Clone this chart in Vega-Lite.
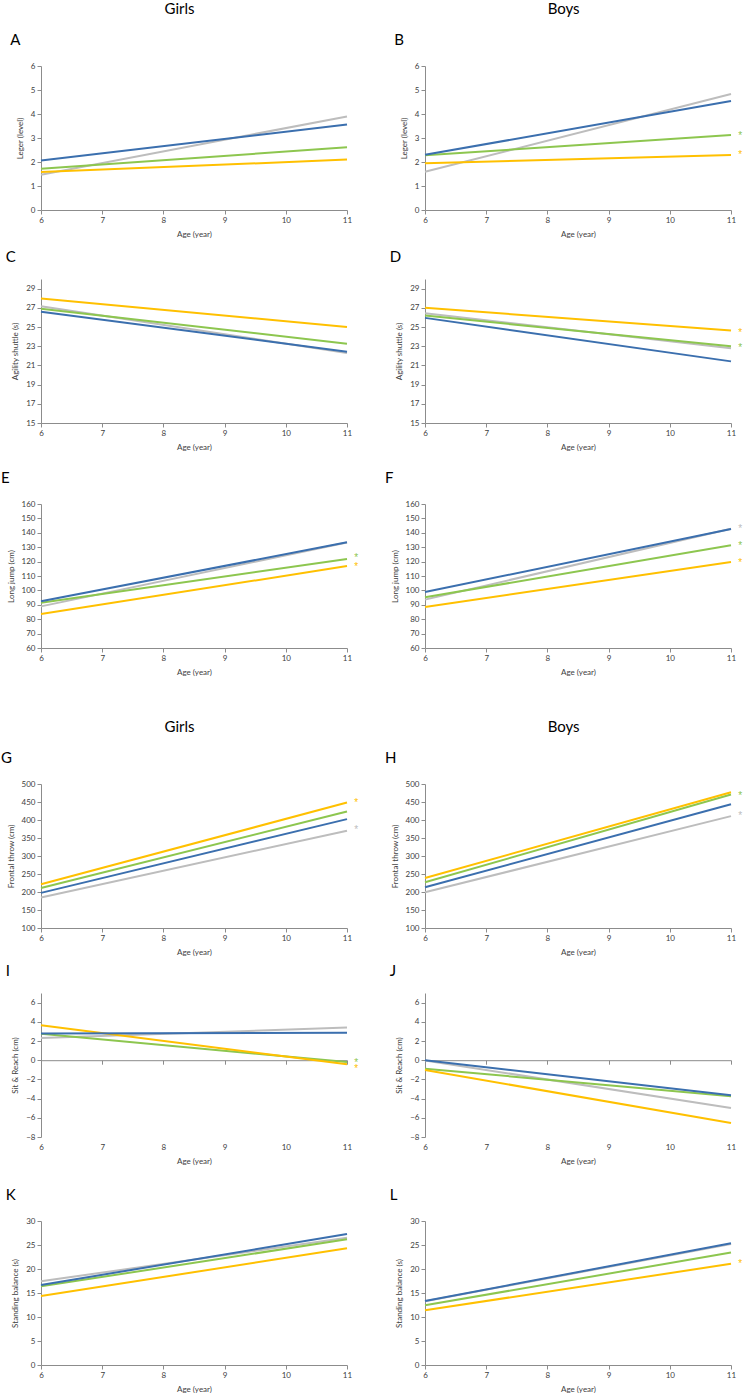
{
"$schema":"https://vega.github.io/schema/vega-lite/v6.json",
"padding":{"left":1,"top":2,"right":0,"bottom":0},
"background":"white",
"config":{"view":{"stroke":null},
"title":{"anchor":"start","frame":"bounds","font":"Lato","fontSize":15,"fontWeight":"normal","color":"#000000","offset":14,"dx":-6},
"axis":{"grid":false,"labelFont":"Lato","labelFontSize":8,"titleFont":"Lato","titleFontSize":8,"titleFontWeight":"normal","labelColor":"#404040","titleColor":"#404040","domainColor":"#8c8c8c","tickColor":"#8c8c8c","tickSize":4,"labelPadding":2,"titlePadding":6,"labelFlush":false}},
"datasets":{
"lines":[
{"panel":"A","group":"gray","age":6,"value":1.47},{"panel":"A","group":"gray","age":11,"value":3.90},
{"panel":"A","group":"green","age":6,"value":1.72},{"panel":"A","group":"green","age":11,"value":2.61},
{"panel":"A","group":"gold","age":6,"value":1.58},{"panel":"A","group":"gold","age":11,"value":2.10},
{"panel":"A","group":"blue","age":6,"value":2.06},{"panel":"A","group":"blue","age":11,"value":3.56},
{"panel":"B","group":"gray","age":6,"value":1.59},{"panel":"B","group":"gray","age":11,"value":4.83},
{"panel":"B","group":"green","age":6,"value":2.28},{"panel":"B","group":"green","age":11,"value":3.12},
{"panel":"B","group":"gold","age":6,"value":1.95},{"panel":"B","group":"gold","age":11,"value":2.29},
{"panel":"B","group":"blue","age":6,"value":2.30},{"panel":"B","group":"blue","age":11,"value":4.54},
{"panel":"C","group":"gray","age":6,"value":27.17},{"panel":"C","group":"gray","age":11,"value":22.29},
{"panel":"C","group":"green","age":6,"value":26.9},{"panel":"C","group":"green","age":11,"value":23.26},
{"panel":"C","group":"gold","age":6,"value":27.96},{"panel":"C","group":"gold","age":11,"value":25.0},
{"panel":"C","group":"blue","age":6,"value":26.6},{"panel":"C","group":"blue","age":11,"value":22.42},
{"panel":"D","group":"gray","age":6,"value":26.43},{"panel":"D","group":"gray","age":11,"value":22.79},
{"panel":"D","group":"green","age":6,"value":26.19},{"panel":"D","group":"green","age":11,"value":22.99},
{"panel":"D","group":"gold","age":6,"value":27.0},{"panel":"D","group":"gold","age":11,"value":24.64},
{"panel":"D","group":"blue","age":6,"value":25.95},{"panel":"D","group":"blue","age":11,"value":21.42},
{"panel":"E","group":"gray","age":6,"value":88.9},{"panel":"E","group":"gray","age":11,"value":133.2},
{"panel":"E","group":"green","age":6,"value":91.5},{"panel":"E","group":"green","age":11,"value":121.8},
{"panel":"E","group":"gold","age":6,"value":83.6},{"panel":"E","group":"gold","age":11,"value":116.9},
{"panel":"E","group":"blue","age":6,"value":92.4},{"panel":"E","group":"blue","age":11,"value":133.4},
{"panel":"F","group":"gray","age":6,"value":93.6},{"panel":"F","group":"gray","age":11,"value":142.8},
{"panel":"F","group":"green","age":6,"value":95.2},{"panel":"F","group":"green","age":11,"value":131.3},
{"panel":"F","group":"gold","age":6,"value":88.5},{"panel":"F","group":"gold","age":11,"value":119.7},
{"panel":"F","group":"blue","age":6,"value":98.9},{"panel":"F","group":"blue","age":11,"value":142.6},
{"panel":"G","group":"gray","age":6,"value":184.6},{"panel":"G","group":"gray","age":11,"value":370.3},
{"panel":"G","group":"green","age":6,"value":211.3},{"panel":"G","group":"green","age":11,"value":423.7},
{"panel":"G","group":"gold","age":6,"value":221.4},{"panel":"G","group":"gold","age":11,"value":448.5},
{"panel":"G","group":"blue","age":6,"value":197.5},{"panel":"G","group":"blue","age":11,"value":402.5},
{"panel":"H","group":"gray","age":6,"value":199.3},{"panel":"H","group":"gray","age":11,"value":410.8},
{"panel":"H","group":"green","age":6,"value":226.9},{"panel":"H","group":"green","age":11,"value":470.6},
{"panel":"H","group":"gold","age":6,"value":238.9},{"panel":"H","group":"gold","age":11,"value":477},
{"panel":"H","group":"blue","age":6,"value":213.1},{"panel":"H","group":"blue","age":11,"value":443.9},
{"panel":"I","group":"gray","age":6,"value":2.30},{"panel":"I","group":"gray","age":11,"value":3.41},
{"panel":"I","group":"green","age":6,"value":2.75},{"panel":"I","group":"green","age":11,"value":-0.19},
{"panel":"I","group":"gold","age":6,"value":3.65},{"panel":"I","group":"gold","age":11,"value":-0.43},
{"panel":"I","group":"blue","age":6,"value":2.79},{"panel":"I","group":"blue","age":11,"value":2.85},
{"panel":"J","group":"gray","age":6,"value":-0.03},{"panel":"J","group":"gray","age":11,"value":-4.98},
{"panel":"J","group":"green","age":6,"value":-0.88},{"panel":"J","group":"green","age":11,"value":-3.76},
{"panel":"J","group":"gold","age":6,"value":-1.02},{"panel":"J","group":"gold","age":11,"value":-6.54},
{"panel":"J","group":"blue","age":6,"value":0.0},{"panel":"J","group":"blue","age":11,"value":-3.66},
{"panel":"K","group":"gray","age":6,"value":17.43},{"panel":"K","group":"gray","age":11,"value":26.53},
{"panel":"K","group":"green","age":6,"value":16.39},{"panel":"K","group":"green","age":11,"value":26.18},
{"panel":"K","group":"gold","age":6,"value":14.38},{"panel":"K","group":"gold","age":11,"value":24.31},
{"panel":"K","group":"blue","age":6,"value":16.67},{"panel":"K","group":"blue","age":11,"value":27.29},
{"panel":"L","group":"gray","age":6,"value":13.30},{"panel":"L","group":"gray","age":11,"value":25.2},
{"panel":"L","group":"green","age":6,"value":12.44},{"panel":"L","group":"green","age":11,"value":23.43},
{"panel":"L","group":"gold","age":6,"value":11.40},{"panel":"L","group":"gold","age":11,"value":21.08},
{"panel":"L","group":"blue","age":6,"value":13.35},{"panel":"L","group":"blue","age":11,"value":25.37}
],
"stars":[
{"panel":"B","group":"green","age":11.15,"value":3.16},{"panel":"B","group":"gold","age":11.15,"value":2.36},
{"panel":"D","group":"gold","age":11.15,"value":24.63},{"panel":"D","group":"green","age":11.15,"value":23.06},
{"panel":"E","group":"green","age":11.15,"value":123.7},{"panel":"E","group":"gold","age":11.15,"value":117.9},
{"panel":"F","group":"gray","age":11.15,"value":144},{"panel":"F","group":"green","age":11.15,"value":132.2},{"panel":"F","group":"gold","age":11.15,"value":120.7},
{"panel":"G","group":"gold","age":11.15,"value":454},{"panel":"G","group":"gray","age":11.15,"value":377},
{"panel":"H","group":"green","age":11.15,"value":472},{"panel":"H","group":"gray","age":11.15,"value":417},
{"panel":"I","group":"green","age":11.15,"value":-0.05},{"panel":"I","group":"gold","age":11.15,"value":-0.67},
{"panel":"L","group":"gold","age":11.15,"value":21.4}
]},
"spacing":44,
"vconcat":[
{"spacing":26,"hconcat":[
{"title":{"text":"Girls","anchor":"middle","fontSize":15,"offset":16,"dx":0},"spacing":12,"vconcat":[
{"title":{"text":"A"},"width":306,"height":144,
"encoding":{"x":{"field":"age","type":"quantitative","scale":{"domain":[6,11],"nice":false},"axis":{"values":[6,7,8,9,10,11],"title":"Age (year)"}},
"y":{"field":"value","type":"quantitative","scale":{"domain":[0,6],"nice":false,"zero":false},"axis":{"values":[0,1,2,3,4,5,6],"title":"Leger (level)"}},
"color":{"field":"group","type":"nominal","scale":{"domain":["gray","green","gold","blue"],"range":["#BDBDBD","#8DC64F","#FFC000","#3B6FAE"]},"legend":null}},
"layer":[{"data":{"name":"lines"},"transform":[{"filter":"datum.panel==='A'"}],"mark":{"type":"line","strokeWidth":2}},
{"data":{"name":"stars"},"transform":[{"filter":"datum.panel==='A'"}],"mark":{"type":"text","text":"*","fontSize":10,"dy":2}}]},
{"spacing":20,"vconcat":[
{"title":{"text":"C"},"width":306,"height":144,
"encoding":{"x":{"field":"age","type":"quantitative","scale":{"domain":[6,11],"nice":false},"axis":{"values":[6,7,8,9,10,11],"title":"Age (year)"}},
"y":{"field":"value","type":"quantitative","scale":{"domain":[15,30],"nice":false,"zero":false},"axis":{"values":[15,17,19,21,23,25,27,29],"title":"Agility shuttle (s)"}},
"color":{"field":"group","type":"nominal","scale":{"domain":["gray","green","gold","blue"],"range":["#BDBDBD","#8DC64F","#FFC000","#3B6FAE"]},"legend":null}},
"layer":[{"data":{"name":"lines"},"transform":[{"filter":"datum.panel==='C'"}],"mark":{"type":"line","strokeWidth":2}},
{"data":{"name":"stars"},"transform":[{"filter":"datum.panel==='C'"}],"mark":{"type":"text","text":"*","fontSize":10,"dy":2}}]},
{"title":{"text":"E"},"width":306,"height":144,
"encoding":{"x":{"field":"age","type":"quantitative","scale":{"domain":[6,11],"nice":false},"axis":{"values":[6,7,8,9,10,11],"title":"Age (year)"}},
"y":{"field":"value","type":"quantitative","scale":{"domain":[60,160],"nice":false,"zero":false},"axis":{"values":[60,70,80,90,100,110,120,130,140,150,160],"title":"Long jump (cm)"}},
"color":{"field":"group","type":"nominal","scale":{"domain":["gray","green","gold","blue"],"range":["#BDBDBD","#8DC64F","#FFC000","#3B6FAE"]},"legend":null}},
"layer":[{"data":{"name":"lines"},"transform":[{"filter":"datum.panel==='E'"}],"mark":{"type":"line","strokeWidth":2}},
{"data":{"name":"stars"},"transform":[{"filter":"datum.panel==='E'"}],"mark":{"type":"text","text":"*","fontSize":10,"dy":2}}]}
]}
]},
{"title":{"text":"Boys","anchor":"middle","fontSize":15,"offset":16,"dx":0},"spacing":12,"vconcat":[
{"title":{"text":"B"},"width":306,"height":144,
"encoding":{"x":{"field":"age","type":"quantitative","scale":{"domain":[6,11],"nice":false},"axis":{"values":[6,7,8,9,10,11],"title":"Age (year)"}},
"y":{"field":"value","type":"quantitative","scale":{"domain":[0,6],"nice":false,"zero":false},"axis":{"values":[0,1,2,3,4,5,6],"title":"Leger (level)"}},
"color":{"field":"group","type":"nominal","scale":{"domain":["gray","green","gold","blue"],"range":["#BDBDBD","#8DC64F","#FFC000","#3B6FAE"]},"legend":null}},
"layer":[{"data":{"name":"lines"},"transform":[{"filter":"datum.panel==='B'"}],"mark":{"type":"line","strokeWidth":2}},
{"data":{"name":"stars"},"transform":[{"filter":"datum.panel==='B'"}],"mark":{"type":"text","text":"*","fontSize":10,"dy":2}}]},
{"spacing":20,"vconcat":[
{"title":{"text":"D"},"width":306,"height":144,
"encoding":{"x":{"field":"age","type":"quantitative","scale":{"domain":[6,11],"nice":false},"axis":{"values":[6,7,8,9,10,11],"title":"Age (year)"}},
"y":{"field":"value","type":"quantitative","scale":{"domain":[15,30],"nice":false,"zero":false},"axis":{"values":[15,17,19,21,23,25,27,29],"title":"Agility shuttle (s)"}},
"color":{"field":"group","type":"nominal","scale":{"domain":["gray","green","gold","blue"],"range":["#BDBDBD","#8DC64F","#FFC000","#3B6FAE"]},"legend":null}},
"layer":[{"data":{"name":"lines"},"transform":[{"filter":"datum.panel==='D'"}],"mark":{"type":"line","strokeWidth":2}},
{"data":{"name":"stars"},"transform":[{"filter":"datum.panel==='D'"}],"mark":{"type":"text","text":"*","fontSize":10,"dy":2}}]},
{"title":{"text":"F"},"width":306,"height":144,
"encoding":{"x":{"field":"age","type":"quantitative","scale":{"domain":[6,11],"nice":false},"axis":{"values":[6,7,8,9,10,11],"title":"Age (year)"}},
"y":{"field":"value","type":"quantitative","scale":{"domain":[60,160],"nice":false,"zero":false},"axis":{"values":[60,70,80,90,100,110,120,130,140,150,160],"title":"Long jump (cm)"}},
"color":{"field":"group","type":"nominal","scale":{"domain":["gray","green","gold","blue"],"range":["#BDBDBD","#8DC64F","#FFC000","#3B6FAE"]},"legend":null}},
"layer":[{"data":{"name":"lines"},"transform":[{"filter":"datum.panel==='F'"}],"mark":{"type":"line","strokeWidth":2}},
{"data":{"name":"stars"},"transform":[{"filter":"datum.panel==='F'"}],"mark":{"type":"text","text":"*","fontSize":10,"dy":2}}]}
]}
]}
]},
{"spacing":26,"hconcat":[
{"title":{"text":"Girls","anchor":"middle","fontSize":15,"offset":16,"dx":0},"spacing":8,"vconcat":[
{"title":{"text":"G"},"width":306,"height":144,
"encoding":{"x":{"field":"age","type":"quantitative","scale":{"domain":[6,11],"nice":false},"axis":{"values":[6,7,8,9,10,11],"title":"Age (year)"}},
"y":{"field":"value","type":"quantitative","scale":{"domain":[100,500],"nice":false,"zero":false},"axis":{"values":[100,150,200,250,300,350,400,450,500],"title":"Frontal throw (cm)"}},
"color":{"field":"group","type":"nominal","scale":{"domain":["gray","green","gold","blue"],"range":["#BDBDBD","#8DC64F","#FFC000","#3B6FAE"]},"legend":null}},
"layer":[{"data":{"name":"lines"},"transform":[{"filter":"datum.panel==='G'"}],"mark":{"type":"line","strokeWidth":2}},
{"data":{"name":"stars"},"transform":[{"filter":"datum.panel==='G'"}],"mark":{"type":"text","text":"*","fontSize":10,"dy":2}}]},
{"spacing":23,"vconcat":[
{"title":{"text":"I"},"width":306,"height":144,"resolve":{"axis":{"x":"independent"}},
"encoding":{"y":{"field":"value","type":"quantitative","scale":{"domain":[-8,7],"nice":false,"zero":false},"axis":{"values":[-8,-6,-4,-2,0,2,4,6],"title":"Sit & Reach (cm)"}},
"color":{"field":"group","type":"nominal","scale":{"domain":["gray","green","gold","blue"],"range":["#BDBDBD","#8DC64F","#FFC000","#3B6FAE"]},"legend":null}},
"layer":[{"data":{"name":"lines"},"transform":[{"filter":"datum.panel==='I'"}],"mark":{"type":"line","strokeWidth":2},
"encoding":{"x":{"field":"age","type":"quantitative","scale":{"domain":[6,11],"nice":false},"axis":{"orient":"bottom","values":[6,7,8,9,10,11],"title":"Age (year)","domain":false,"tickOpacity":0}}}},
{"data":{"name":"stars"},"transform":[{"filter":"datum.panel==='I'"}],"mark":{"type":"text","text":"*","fontSize":10,"dy":2},
"encoding":{"x":{"field":"age","type":"quantitative","scale":{"domain":[6,11],"nice":false},"axis":{"orient":"bottom","values":[6,7,8,9,10,11],"title":null,"labels":false,"offset":-76.8}}}}]},
{"title":{"text":"K"},"width":306,"height":144,
"encoding":{"x":{"field":"age","type":"quantitative","scale":{"domain":[6,11],"nice":false},"axis":{"values":[6,7,8,9,10,11],"title":"Age (year)"}},
"y":{"field":"value","type":"quantitative","scale":{"domain":[0,30],"nice":false,"zero":false},"axis":{"values":[0,5,10,15,20,25,30],"title":"Standing balance (s)"}},
"color":{"field":"group","type":"nominal","scale":{"domain":["gray","green","gold","blue"],"range":["#BDBDBD","#8DC64F","#FFC000","#3B6FAE"]},"legend":null}},
"layer":[{"data":{"name":"lines"},"transform":[{"filter":"datum.panel==='K'"}],"mark":{"type":"line","strokeWidth":2}},
{"data":{"name":"stars"},"transform":[{"filter":"datum.panel==='K'"}],"mark":{"type":"text","text":"*","fontSize":10,"dy":2}}]}
]}
]},
{"title":{"text":"Boys","anchor":"middle","fontSize":15,"offset":16,"dx":0},"spacing":8,"vconcat":[
{"title":{"text":"H"},"width":306,"height":144,
"encoding":{"x":{"field":"age","type":"quantitative","scale":{"domain":[6,11],"nice":false},"axis":{"values":[6,7,8,9,10,11],"title":"Age (year)"}},
"y":{"field":"value","type":"quantitative","scale":{"domain":[100,500],"nice":false,"zero":false},"axis":{"values":[100,150,200,250,300,350,400,450,500],"title":"Frontal throw (cm)"}},
"color":{"field":"group","type":"nominal","scale":{"domain":["gray","green","gold","blue"],"range":["#BDBDBD","#8DC64F","#FFC000","#3B6FAE"]},"legend":null}},
"layer":[{"data":{"name":"lines"},"transform":[{"filter":"datum.panel==='H'"}],"mark":{"type":"line","strokeWidth":2}},
{"data":{"name":"stars"},"transform":[{"filter":"datum.panel==='H'"}],"mark":{"type":"text","text":"*","fontSize":10,"dy":2}}]},
{"spacing":23,"vconcat":[
{"title":{"text":"J"},"width":306,"height":144,"resolve":{"axis":{"x":"independent"}},
"encoding":{"y":{"field":"value","type":"quantitative","scale":{"domain":[-8,7],"nice":false,"zero":false},"axis":{"values":[-8,-6,-4,-2,0,2,4,6],"title":"Sit & Reach (cm)"}},
"color":{"field":"group","type":"nominal","scale":{"domain":["gray","green","gold","blue"],"range":["#BDBDBD","#8DC64F","#FFC000","#3B6FAE"]},"legend":null}},
"layer":[{"data":{"name":"lines"},"transform":[{"filter":"datum.panel==='J'"}],"mark":{"type":"line","strokeWidth":2},
"encoding":{"x":{"field":"age","type":"quantitative","scale":{"domain":[6,11],"nice":false},"axis":{"orient":"bottom","values":[6,7,8,9,10,11],"title":"Age (year)","domain":false,"tickOpacity":0}}}},
{"data":{"name":"stars"},"transform":[{"filter":"datum.panel==='J'"}],"mark":{"type":"text","text":"*","fontSize":10,"dy":2},
"encoding":{"x":{"field":"age","type":"quantitative","scale":{"domain":[6,11],"nice":false},"axis":{"orient":"bottom","values":[6,7,8,9,10,11],"title":null,"labels":false,"offset":-76.8}}}}]},
{"title":{"text":"L"},"width":306,"height":144,
"encoding":{"x":{"field":"age","type":"quantitative","scale":{"domain":[6,11],"nice":false},"axis":{"values":[6,7,8,9,10,11],"title":"Age (year)"}},
"y":{"field":"value","type":"quantitative","scale":{"domain":[0,30],"nice":false,"zero":false},"axis":{"values":[0,5,10,15,20,25,30],"title":"Standing balance (s)"}},
"color":{"field":"group","type":"nominal","scale":{"domain":["gray","green","gold","blue"],"range":["#BDBDBD","#8DC64F","#FFC000","#3B6FAE"]},"legend":null}},
"layer":[{"data":{"name":"lines"},"transform":[{"filter":"datum.panel==='L'"}],"mark":{"type":"line","strokeWidth":2}},
{"data":{"name":"stars"},"transform":[{"filter":"datum.panel==='L'"}],"mark":{"type":"text","text":"*","fontSize":10,"dy":2}}]}
]}
]}
]}
]
}
